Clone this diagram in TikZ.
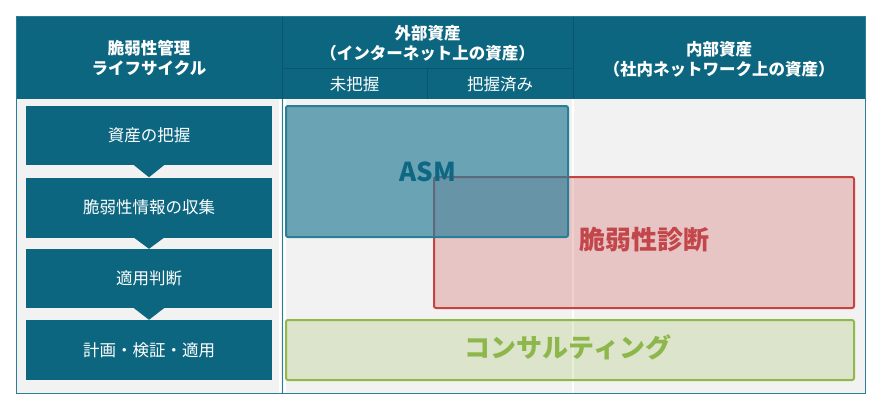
\documentclass[tikz,border=0pt]{standalone}
\usepackage{fontspec}
\setmainfont{Noto Sans CJK JP}
\definecolor{hdr}{RGB}{12,102,128}
\definecolor{hdrline}{RGB}{9,86,108}
\definecolor{bodybg}{RGB}{242,242,242}
\definecolor{frame}{RGB}{43,126,152}
\definecolor{asmc}{RGB}{43,126,152}
\definecolor{asmtxt}{RGB}{14,104,132}
\definecolor{redc}{RGB}{200,66,63}
\definecolor{redtxt}{RGB}{195,70,75}
\definecolor{grnc}{RGB}{147,184,74}
\definecolor{grntxt}{RGB}{141,183,74}
\tikzset{
  hcell/.style={inner sep=0pt, text=white, align=center, font=\fontsize{16.5}{20}\selectfont\bfseries},
  hsub/.style={inner sep=0pt, text=white, font=\fontsize{16.5}{20}\selectfont},
  stepbox/.style={fill=hdr, minimum width=246pt, inner sep=0pt, text=white, font=\fontsize{16.5}{20}\selectfont},
  area/.style={rounded corners=2pt, line width=2pt, inner sep=0pt},
  bigtxt/.style={font=\fontsize{26}{30}\selectfont\bfseries, inner sep=0pt},
}
\begin{document}
\begin{tikzpicture}[x=1pt,y=-1pt]
\useasboundingbox (0,0) rectangle (880,410);
% body and header
\fill[bodybg] (16,99) rectangle (865,393);
\fill[hdr] (16,16) rectangle (865,99);
\draw[white, line width=2pt] (279.5,99) -- (279.5,393);
\draw[white, line width=2pt] (284.5,99) -- (284.5,393);
\draw[white, line width=1.5pt] (573,99) -- (573,393);
\draw[frame, line width=1pt] (282,99) -- (282,393);
\draw[hdrline, line width=1pt] (282,16) -- (282,99);
\draw[hdrline, line width=1pt] (573,16) -- (573,99);
\draw[hdrline, line width=1pt] (282,68) -- (573,68);
\draw[hdrline, line width=1pt] (427,68) -- (427,99);
\draw[frame, line width=1pt] (16,16) rectangle (865,393);
% header texts
\node[hcell] (h1) at (149,58) {脆弱性管理\\ライフサイクル};
\node[hcell] (h2) at (427.5,43) {外部資産\\（インターネット上の資産）};
\node[hsub] (h3) at (354.5,84) {未把握};
\node[hsub] (h4) at (500,84) {把握済み};
\node[hcell] (h5) at (719,59) {内部資産\\（社内ネットワーク上の資産）};
% lifecycle steps
\node[stepbox, minimum height=59pt] (b1) at (149,135.5) {資産の把握};
\node[stepbox, minimum height=60pt] (b2) at (149,207.5) {脆弱性情報の収集};
\node[stepbox, minimum height=59pt] (b3) at (149,278.5) {適用判断};
\node[stepbox, minimum height=60pt] (b4) at (149,350) {計画・検証・適用};
\foreach \a/\b in {b1/b2,b2/b3,b3/b4}{
  \fill[hdr] ([xshift=-15pt]\a.south) -- ([xshift=15pt]\a.south) -- (\b.north) -- cycle;
}
% areas
\node[area, draw=redc, fill=redc, fill opacity=0.25, draw opacity=1,
      minimum width=420pt, minimum height=131pt] (red) at (644,242.5) {};
\node[area, draw=asmc, fill=asmc, fill opacity=0.68, draw opacity=1,
      minimum width=282pt, minimum height=131pt] (asm) at (427,171.5) {};
\node[area, draw=grnc, fill=grnc, fill opacity=0.23, draw opacity=1,
      minimum width=568pt, minimum height=60pt] (grn) at (570,350) {};
\node[bigtxt, text=asmtxt] (asmt) at (428,172) {ASM};
\node[bigtxt, text=redtxt] (redt) at (644,240) {脆弱性診断};
\node[bigtxt, text=grntxt] (grnt) at (568,347) {コンサルティング};
\end{tikzpicture}
\end{document}
